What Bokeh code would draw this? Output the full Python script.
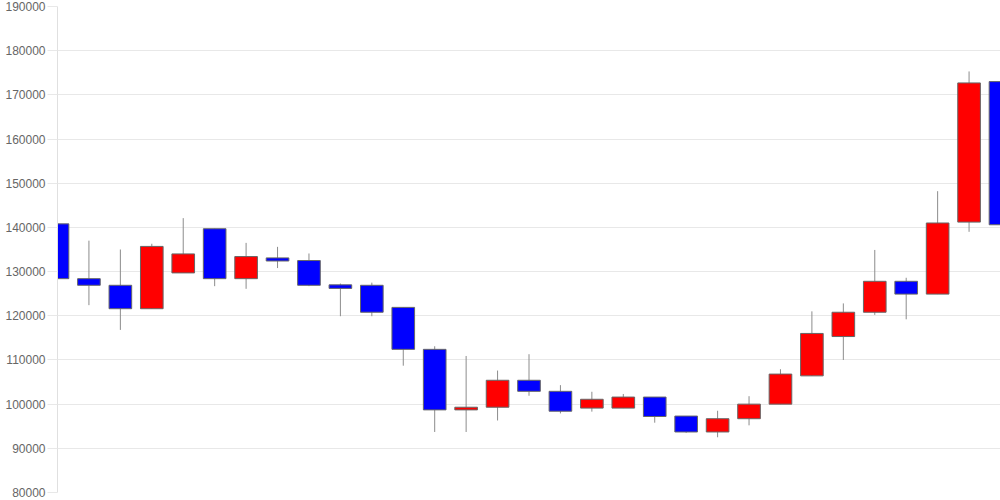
from bokeh.plotting import figure
from bokeh.models import ColumnDataSource, Range1d, FixedTicker, NumeralTickFormatter
from bokeh.embed import file_html
from bokeh.resources import INLINE

# --- data ---
day = list(range(31))
open_ = [140800, 128400, 126900, 121600, 129700, 139700, 128400, 133100, 132500, 127000,
         126900, 121900, 112400, 98700, 99300, 105400, 102900, 99100, 99100, 101600,
         97300, 93700, 96700, 100000, 106400, 115300, 120800, 127800, 124900, 141200,
         173000]
high = [140800, 137000, 135000, 136300, 142100, 139700, 136500, 135600, 134100, 127300,
        127500, 121900, 113100, 110900, 107600, 111300, 104300, 102800, 102300, 101600,
        97300, 98500, 101800, 107900, 121000, 122800, 134900, 128600, 148200, 175300,
        176600]
low = [116200, 122400, 116800, 121600, 129700, 126700, 126100, 130800, 126700, 119900,
       119900, 108700, 93700, 93700, 96300, 101900, 97900, 98300, 99100, 95800,
       93500, 92500, 95200, 100000, 106400, 110000, 120200, 119200, 124900, 139000,
       139500]
close = [128400, 126900, 121600, 135700, 134000, 128400, 133400, 132400, 126900, 126200,
         120800, 112400, 98700, 99300, 105400, 102900, 98400, 101100, 101600, 97200,
         93700, 96700, 100000, 106800, 116000, 120800, 127800, 124900, 141000, 172700,
         140600]
y_ticks = [80000, 90000, 100000, 110000, 120000, 130000, 140000, 150000, 160000, 170000, 180000, 190000]

UP_COLOR = "#ff0000"
DOWN_COLOR = "#0000ff"

colors = [UP_COLOR if c >= o else DOWN_COLOR for o, c in zip(open_, close)]
top = [max(o, c) for o, c in zip(open_, close)]
bottom = [min(o, c) for o, c in zip(open_, close)]

src = ColumnDataSource(dict(x=day, open=open_, high=high, low=low, close=close,
                            top=top, bottom=bottom, color=colors))

p = figure(width=1000, height=500, output_backend="svg", toolbar_location=None,
           x_range=Range1d(0, 30), y_range=Range1d(80000, 190000),
           x_axis_location=None, min_border_left=57, min_border_right=0,
           min_border_top=6, min_border_bottom=8)
p.outline_line_color = None
p.background_fill_color = "white"
p.border_fill_color = "white"

p.xgrid.visible = False
p.ygrid.ticker = FixedTicker(ticks=y_ticks[:-1])
p.ygrid.grid_line_color = "#e8e8e8"
p.ygrid.grid_line_width = 1

ya = p.yaxis[0]
ya.ticker = FixedTicker(ticks=y_ticks)
ya.formatter = NumeralTickFormatter(format="0")
ya.axis_line_color = "#e0e0e0"
ya.major_tick_line_color = "#e8e8e8"
ya.major_tick_out = 10
ya.major_tick_in = 0
ya.minor_tick_line_color = None
ya.major_label_standoff = 2
ya.major_label_text_color = "#666666"
ya.major_label_text_font = "Liberation Sans"
ya.major_label_text_font_size = "12px"

p.segment(x0="x", y0="low", x1="x", y1="high", source=src,
          line_color="#8c8c8c", line_width=1)
p.vbar(x="x", width=0.72, top="top", bottom="bottom", source=src,
       fill_color="color", line_color="#666666", line_width=1)

open("out.html", "w").write(file_html(p, INLINE))
